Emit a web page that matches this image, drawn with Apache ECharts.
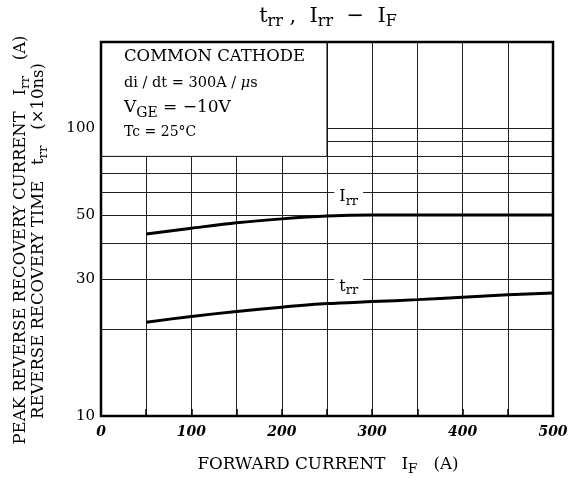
<!DOCTYPE html>
<html><head><meta charset="utf-8">
<script src="https://cdn.jsdelivr.net/npm/echarts@6/dist/echarts.min.js"></script>
<style>html,body{margin:0;padding:0;background:#fff}#c{width:571px;height:481px}</style>
</head><body><div id="c"></div>
<script>
const xValues = [50, 100, 150, 200, 250, 300, 350, 400, 450, 500];
const irrValues = [43, 45, 47, 48.5, 49.6, 50, 50, 50, 50, 50];
const trrValues = [21.2, 22.2, 23.1, 23.9, 24.6, 25.0, 25.4, 25.9, 26.4, 26.8];
const yTickLabels = [10, 30, 50, 100];
const fullGridY = [20, 30, 40, 50, 60, 70, 80];
const partialGridY = [90, 100];
const xTickLabels = [0, 100, 200, 300, 400, 500];

const FONT = 'DejaVu Serif';
const sub = (fs, pad) => ({fontFamily: FONT, fontSize: fs, padding: [pad, 0, 0, 0], color: '#000'});
const chart = echarts.init(document.getElementById('c'));

const lineStyleGrid = {color: '#222', width: 1, type: 'solid'};
const markLineData = [];
fullGridY.forEach(v => markLineData.push([{coord: [0, v]}, {coord: [500, v]}]));
partialGridY.forEach(v => markLineData.push([{coord: [250, v]}, {coord: [500, v]}]));

chart.setOption({
  animation: false,
  backgroundColor: '#fff',
  grid: {left: 101, right: 18, top: 42, bottom: 65},
  xAxis: {
    type: 'value', min: 0, max: 500, interval: 50,
    axisLine: {show: false},
    axisTick: {show: true, inside: true, length: 7, lineStyle: {color: '#000', width: 1.5}},
    axisLabel: {
      fontFamily: FONT, fontSize: 14, fontWeight: 'bold', fontStyle: 'italic', color: '#000', margin: 9,
      formatter: v => xTickLabels.indexOf(v) >= 0 ? String(v) : ''
    },
    splitLine: {show: true, lineStyle: lineStyleGrid}
  },
  yAxis: {
    type: 'log', logBase: 10, min: 10, max: 200,
    axisLine: {show: false},
    axisTick: {show: false},
    axisLabel: {fontFamily: FONT, fontSize: 15, color: '#000', margin: 6, customValues: yTickLabels},
    splitLine: {show: false}
  },
  series: [
    {
      type: 'line', data: [], silent: true, z: 1,
      markLine: {silent: true, symbol: ['none', 'none'], label: {show: false}, lineStyle: lineStyleGrid, data: markLineData}
    },
    {
      type: 'line', data: [], silent: true, z: 2,
      markArea: {silent: true, itemStyle: {color: '#fff', borderColor: '#000', borderWidth: 1}, label: {show: false},
        data: [[{coord: [0, 80]}, {coord: [500 / 2, 200]}]]}
    },
    {
      type: 'line', name: 'Irr', z: 5, smooth: 0.3, symbol: 'none',
      data: xValues.map((x, i) => [x, irrValues[i]]),
      lineStyle: {color: '#000', width: 3},
      markPoint: {
        symbol: 'circle', symbolSize: 0,
        label: {show: true, position: 'inside', backgroundColor: '#fff', padding: [0, 5, 0, 5],
          formatter: '{m|I}{s|rr}', rich: {m: {fontFamily: FONT, fontSize: 16, color: '#000'}, s: sub(13, 9)}},
        data: [{coord: [274, 57.8]}]
      }
    },
    {
      type: 'line', name: 'trr', z: 5, smooth: 0.3, symbol: 'none',
      data: xValues.map((x, i) => [x, trrValues[i]]),
      lineStyle: {color: '#000', width: 3},
      markPoint: {
        symbol: 'circle', symbolSize: 0,
        label: {show: true, position: 'inside', backgroundColor: '#fff', padding: [0, 5, 0, 5],
          formatter: '{m|t}{s|rr}', rich: {m: {fontFamily: FONT, fontSize: 16, color: '#000'}, s: sub(13, 9)}},
        data: [{coord: [274, 28.2]}]
      }
    },
    {
      type: 'line', data: [], silent: true, z: 10,
      markArea: {silent: true, itemStyle: {color: 'rgba(0,0,0,0)', borderColor: '#000', borderWidth: 2.5}, label: {show: false},
        data: [[{coord: [0, 10]}, {coord: [500, 200]}]]}
    }
  ],
  graphic: {elements: [
    {type: 'text', z: 100, x: 328, y: 17, style: {align: 'center', verticalAlign: 'middle',
      text: '{m|t}{s|rr}{m| ,  I}{s|rr}{m|  −  I}{s|F}', rich: {m: {fontFamily: FONT, fontSize: 21, color: '#000'}, s: sub(16, 10)}}},
    {type: 'text', z: 100, x: 124, y: 57, style: {text: 'COMMON CATHODE', fontFamily: FONT, fontSize: 16.5, fill: '#000', verticalAlign: 'middle'}},
    {type: 'text', z: 100, x: 124, y: 83, style: {text: '{m|di / dt = 300A / }{i|μ}{m|s}', verticalAlign: 'middle',
      rich: {m: {fontFamily: FONT, fontSize: 14.5, color: '#000'}, i: {fontFamily: FONT, fontSize: 14.5, fontStyle: 'italic', color: '#000'}}}},
    {type: 'text', z: 100, x: 124, y: 108, style: {text: '{m|V}{s|GE}{m| = −10V}', verticalAlign: 'middle',
      rich: {m: {fontFamily: FONT, fontSize: 17, color: '#000'}, s: sub(14, 10)}}},
    {type: 'text', z: 100, x: 124, y: 132, style: {text: 'Tc = 25°C', fontFamily: FONT, fontSize: 14, fill: '#000', verticalAlign: 'middle'}},
    {type: 'text', z: 100, x: 328, y: 465, style: {text: '{m|FORWARD CURRENT   I}{s|F}{m|   (A)}', align: 'center', verticalAlign: 'middle',
      rich: {m: {fontFamily: FONT, fontSize: 16.8, color: '#000'}, s: sub(13.5, 9)}}},
    {type: 'text', z: 100, x: 21, y: 240, rotation: Math.PI / 2, style: {text: '{m|PEAK REVERSE RECOVERY CURRENT   I}{s|rr}{m|   (A)}', align: 'center', verticalAlign: 'middle',
      rich: {m: {fontFamily: FONT, fontSize: 16.5, color: '#000'}, s: sub(13.5, 9)}}},
    {type: 'text', z: 100, x: 39, y: 241, rotation: Math.PI / 2, style: {text: '{m|REVERSE RECOVERY TIME   t}{s|rr}{m|   (×10ns)}', align: 'center', verticalAlign: 'middle',
      rich: {m: {fontFamily: FONT, fontSize: 16.5, color: '#000'}, s: sub(13.5, 9)}}}
  ]}
});
</script></body></html>
